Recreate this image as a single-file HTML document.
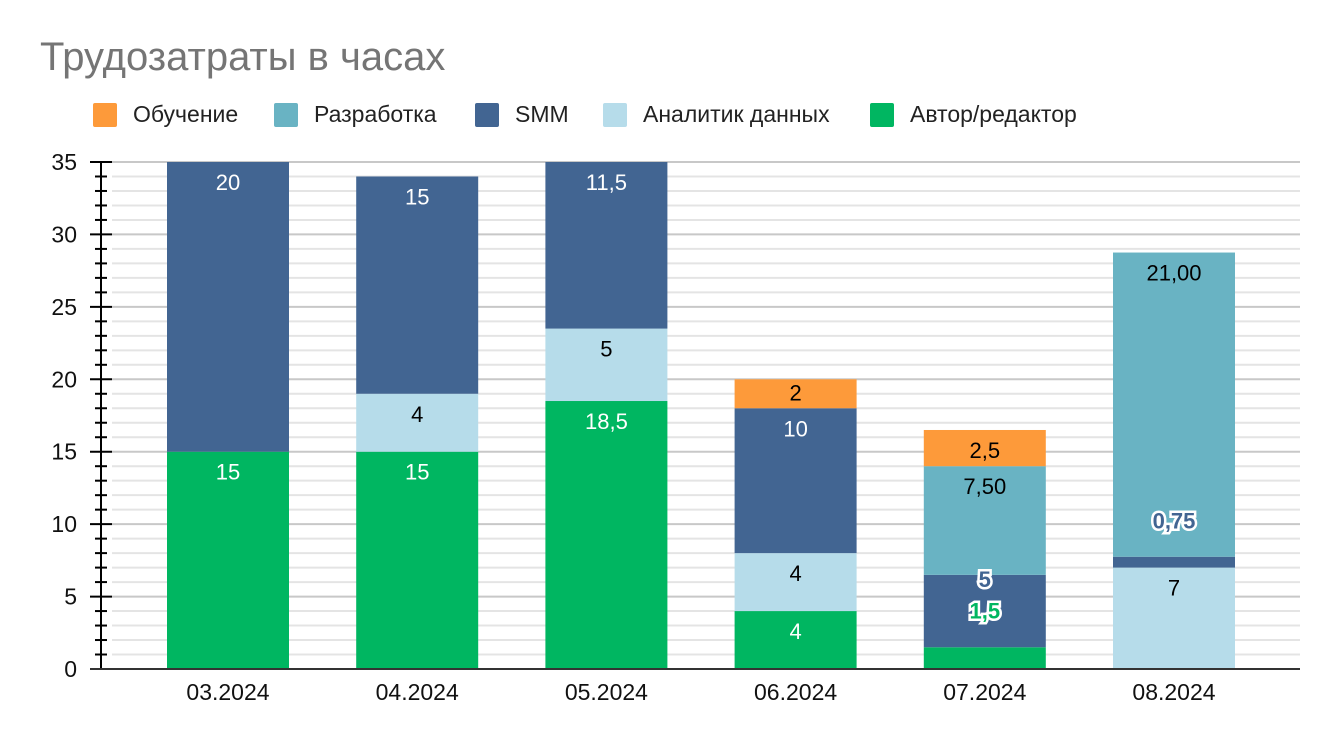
<!DOCTYPE html>
<html><head><meta charset="utf-8">
<style>
body{margin:0;background:#fff;}
svg text{font-family:"Liberation Sans",sans-serif;}
</style></head>
<body>
<svg id="chart" width="1338" height="742" xmlns="http://www.w3.org/2000/svg">
<text x="40" y="70" font-size="40" fill="#757575">Трудозатраты в часах</text>
<g id="legend"></g>
<g id="grid"></g>
<g id="bars"></g>
<g id="axes"></g>
<g id="labels"></g>
</svg>
<script>
const categories=["03.2024","04.2024","05.2024","06.2024","07.2024","08.2024"];
const seriesNames=["Автор/редактор","Аналитик данных","SMM","Разработка","Обучение"];
const avtor=[15,15,18.5,4,1.5,0];
const analitik=[0,4,5,4,0,7];
const smm=[20,15,11.5,10,5,0.75];
const razrab=[0,0,0,0,7.5,21];
const obuch=[0,0,0,2,2.5,0];
const labelText=[["15","15","18,5","4","1,5",""],["","4","5","4","","7"],["20","15","11,5","10","5","0,75"],["","","","","7,50","21,00"],["","","","2","2,5",""]];
const yTicks=[0,5,10,15,20,25,30,35];
const colors=["#00b661","#b6dcea","#426592","#69b3c3","#fd9a3a"];
const textColors=["#fff","#000","#fff","#000","#000"];
const legendOrder=[4,3,2,1,0];
const legendX=[93,274,475,603,870];
const NS="http://www.w3.org/2000/svg";
const X0=100,X1=1300,Y0=669,Y1=162,YMAX=35;
const y=v=>Y0-(v/YMAX)*(Y0-Y1);
const bw=122;
const cx=i=>228+189.2*i;
function mk(tag,attrs,parent){const e=document.createElementNS(NS,tag);for(const k in attrs)e.setAttribute(k,attrs[k]);document.getElementById(parent).appendChild(e);return e;}
legendOrder.forEach((s,j)=>{
 const r=mk("rect",{x:legendX[j],y:103,width:24,height:24,rx:2,fill:colors[s]},"legend");
 
 
 const t=mk("text",{x:legendX[j]+40,y:122,"font-size":23,fill:"#222"},"legend");
 
 
 t.textContent=seriesNames[s];
});
for(let v=1;v<=YMAX;v++){
 const l=mk("line",{x1:112,x2:X1,y1:y(v),y2:y(v),stroke:v%5==0?"#c8c8c8":"#e4e4e4","stroke-width":2},"grid");
 
 
 const tk=mk("line",{x1:v%5==0?90:95,x2:v%5==0?112:107,y1:y(v),y2:y(v),stroke:"#000","stroke-width":2},"axes");
 
 
}
yTicks.forEach(v=>{
 const t=mk("text",{x:77,y:y(v)+8,"font-size":23,"text-anchor":"end",fill:"#111"},"axes");
 
 
 t.textContent=v;
});
const ya=mk("line",{x1:101,x2:101,y1:Y1,y2:Y0,stroke:"#000","stroke-width":2},"axes");


const series=[avtor,analitik,smm,razrab,obuch];
categories.forEach((c,i)=>{
 let base=0;
 series.forEach((arr,s)=>{
  const v=arr[i]; if(!v) return;
  const top=Math.min(base+v,YMAX);
  const r=mk("rect",{x:cx(i)-bw/2,y:y(top),width:bw,height:y(base)-y(top),fill:colors[s]},"bars");
  
  
  const lt=labelText[s][i];
  if(lt){
   const segH=y(base)-y(top);
   let ly=y(top)+28, outline=false;
   if(segH<20){outline=true; ly=y(top)-28;}
   else if(segH<32){ly=y(top)+21;}
   if(s==2&&i==4){outline=true; ly=y(top)+12;}
   if(s==0&&i==4){outline=true; ly=y(top)-29;}
   const t=mk("text",{x:cx(i),y:ly,"font-size":22,"text-anchor":"middle",fill:outline?colors[s]:textColors[s]},"labels");
   if(outline){t.setAttribute("stroke","#fff");t.setAttribute("stroke-width","5");t.setAttribute("paint-order","stroke");t.setAttribute("font-weight","bold");}
   
   
   t.textContent=lt;
  }
  base+=v;
 });
 const t=mk("text",{x:cx(i),y:700,"font-size":23,"text-anchor":"middle",fill:"#111"},"axes");
 
 
 t.textContent=c;
});
const xa=mk("line",{x1:90,x2:X1,y1:Y0,y2:Y0,stroke:"#333","stroke-width":2},"axes");


</script>
</body></html>
